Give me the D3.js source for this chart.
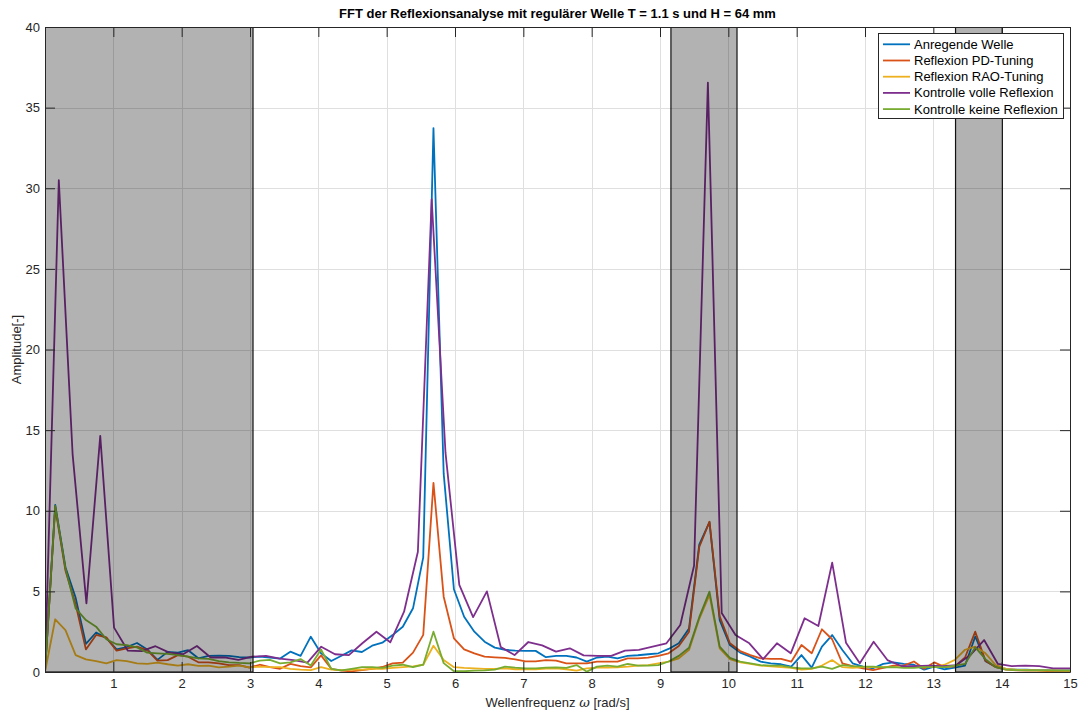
<!DOCTYPE html>
<html>
<head>
<meta charset="utf-8">
<script src="https://cdn.jsdelivr.net/npm/d3@7"></script>
<style>
  html, body { margin: 0; padding: 0; background: #fff; }
  svg { display: block; font-family: "Liberation Sans", Arial, Helvetica, sans-serif; }
</style>
</head>
<body>
<svg id="chart" width="1080" height="713"></svg>
<script>
// Frequency resolution of the two measurement records (rad/s per FFT bin)
const dOmegaRun = 0.1496;      // main runs (42 s record)
const dOmegaControl = 0.2021;  // full-reflection control run

// FFT amplitudes per bin, main runs
const anregendeWelle = [
  0, 10.36, 6.5, 4.6, 1.75, 2.45, 2.1, 1.4, 1.55, 1.8,
  1.4, 0.75, 1.25, 1.2, 1.35, 0.85, 1.0, 1.02, 1.0, 0.92,
  0.9, 0.95, 0.9, 0.83, 1.26, 1.0, 2.19, 1.16, 0.68, 1.01,
  1.34, 1.24, 1.63, 1.82, 2.29, 2.81, 3.95, 7.11, 33.73, 12.3,
  5.13, 3.43, 2.5, 1.88, 1.51, 1.38, 1.32, 1.31, 1.31, 0.92,
  1.0, 1.0, 0.9, 0.64, 0.9, 0.95, 0.85, 1.0, 1.04, 1.1,
  1.16, 1.43, 1.78, 2.7, 7.9, 9.3, 3.22, 1.67, 1.2, 0.95,
  0.64, 0.54, 0.48, 0.33, 1.05, 0.27, 1.57, 2.29, 1.36, 0.54,
  0.33, 0.23, 0.5, 0.6, 0.5, 0.45, 0.15, 0.33, 0.17, 0.27,
  0.4, 2.2, 0.67, 0.33, 0.2, 0.15, 0.15, 0.12, 0.12, 0.1,
  0.1, 0.1
];
const reflexionPD = [
  0, 10.2, 6.3, 4.2, 1.4, 2.3, 2.15, 1.32, 1.47, 1.57,
  1.36, 0.7, 0.74, 1.05, 0.95, 0.6, 0.6, 0.54, 0.43, 0.43,
  0.27, 0.45, 0.3, 0.2, 0.5, 0.37, 0.29, 1.03, 0.2, 0.08,
  0.04, 0.12, 0.2, 0.31, 0.54, 0.58, 1.2, 2.3, 11.73, 4.67,
  2.09, 1.4, 1.16, 0.95, 0.91, 0.87, 0.78, 0.66, 0.66, 0.74,
  0.7, 0.54, 0.54, 0.54, 0.64, 0.64, 0.64, 0.85, 0.85, 0.89,
  1.0, 1.16, 1.61, 2.5, 7.75, 9.32, 3.45, 1.78, 1.3, 1.05,
  0.85, 0.81, 0.81, 0.64, 1.67, 1.16, 2.65, 2.03, 0.54, 0.37,
  0.23, 0.12, 0.25, 0.4, 0.4, 0.65, 0.2, 0.6, 0.3, 0.35,
  0.9, 2.5, 0.7, 0.3, 0.15, 0.1, 0.08, 0.08, 0.06, 0.06,
  0.05, 0.05
];
const reflexionRAO = [
  0, 3.27, 2.6, 1.05, 0.78, 0.68, 0.54, 0.74, 0.68, 0.54,
  0.5, 0.58, 0.48, 0.4, 0.48, 0.38, 0.4, 0.29, 0.33, 0.4,
  0.29, 0.33, 0.3, 0.3, 0.2, 0.15, 0.12, 0.3, 0.15, 0.12,
  0.15, 0.15, 0.2, 0.2, 0.25, 0.3, 0.35, 0.45, 1.63, 0.74,
  0.3, 0.25, 0.22, 0.2, 0.2, 0.23, 0.17, 0.17, 0.17, 0.21,
  0.23, 0.17, 0.08, 0.23, 0.27, 0.27, 0.29, 0.33, 0.4, 0.43,
  0.54, 0.64, 0.85, 1.37, 3.3, 4.78, 1.47, 0.8, 0.6, 0.5,
  0.4, 0.35, 0.3, 0.25, 0.15, 0.2, 0.4, 0.74, 0.3, 0.25,
  0.3, 0.3, 0.3, 0.3, 0.3, 0.3, 0.35, 0.3, 0.45, 0.75,
  1.38, 1.57, 1.16, 0.43, 0.2, 0.15, 0.12, 0.1, 0.1, 0.1,
  0.08, 0.08
];
const keineReflexion = [
  0, 10.3, 6.43, 3.94, 3.22, 2.81, 2.03, 1.72, 1.67, 1.53,
  1.2, 1.16, 1.12, 1.05, 0.95, 0.85, 0.81, 0.68, 0.6, 0.56,
  0.54, 0.7, 0.75, 0.54, 0.6, 0.8, 0.4, 1.4, 0.2, 0.1,
  0.2, 0.3, 0.3, 0.25, 0.4, 0.45, 0.3, 0.45, 2.5, 0.55,
  0.05, 0.05, 0.08, 0.1, 0.15, 0.33, 0.27, 0.23, 0.23, 0.27,
  0.29, 0.25, 0.43, 0.02, 0.33, 0.4, 0.33, 0.5, 0.4, 0.4,
  0.43, 0.65, 1.0, 1.5, 3.4, 4.98, 1.57, 0.88, 0.64, 0.54,
  0.43, 0.39, 0.39, 0.29, 0.23, 0.23, 0.33, 0.19, 0.43, 0.37,
  0.33, 0.33, 0.29, 0.3, 0.25, 0.25, 0.3, 0.3, 0.3, 0.4,
  0.5, 1.53, 0.8, 0.3, 0.15, 0.12, 0.1, 0.1, 0.1, 0.08,
  0.08, 0.08
];
// FFT amplitudes per bin, full-reflection control run
const volleReflexion = [
  0, 30.5, 13.5, 4.26, 14.64, 2.75, 1.32, 1.3, 1.6, 1.2,
  1.1, 1.61, 0.9, 0.9, 0.75, 0.95, 1.0, 0.83, 0.74, 0.58,
  1.57, 1.1, 1.05, 1.8, 2.5, 1.84, 3.74, 7.46, 29.32, 13.6,
  5.4, 3.4, 5.0, 1.55, 1.05, 1.86, 1.65, 1.26, 1.47, 1.03,
  1.0, 1.0, 1.32, 1.37, 1.57, 1.78, 2.91, 6.6, 36.55, 3.66,
  2.3, 1.78, 0.8, 1.78, 1.16, 3.33, 2.85, 6.78, 1.82, 0.54,
  1.88, 0.74, 0.37, 0.37, 0.39, 0.37, 0.43, 1.05, 1.98, 0.5,
  0.37, 0.39, 0.37, 0.23, 0.23, 0.2
];

// Excluded frequency bands (shaded)
const bandStart = [0, 9.16, 13.325];
const bandEnd = [3.044, 10.127, 14.01];

const seriesNames = ["Anregende Welle", "Reflexion PD-Tuning", "Reflexion RAO-Tuning",
                     "Kontrolle volle Reflexion", "Kontrolle keine Reflexion"];
const seriesColors = ["#0072BD", "#D95319", "#EDB120", "#7E2F8E", "#77AC30"];
const seriesValues = [anregendeWelle, reflexionPD, reflexionRAO, volleReflexion, keineReflexion];
const seriesStep = [dOmegaRun, dOmegaRun, dOmegaRun, dOmegaControl, dOmegaRun];

const xTicks = d3.range(1, 16);
const yTicks = d3.range(0, 41, 5);

const titleText = "FFT der Reflexionsanalyse mit regulärer Welle T = 1.1 s und H = 64 mm";

// ---- layout ----
const svg = d3.select("#chart");
const plot = { left: 45, right: 1070, top: 27, bottom: 672 };
const axisColor = "#262626";

const x = d3.scaleLinear().domain([0, 15]).range([plot.left, plot.right]);
const y = d3.scaleLinear().domain([0, 40]).range([plot.bottom, plot.top]);

svg.append("defs").append("clipPath").attr("id", "plotClip")
  .append("rect")
  .attr("x", plot.left).attr("y", plot.top)
  .attr("width", plot.right - plot.left).attr("height", plot.bottom - plot.top);

// grid
const grid = svg.append("g").attr("stroke", "#dfdfdf").attr("stroke-width", 1);
grid.selectAll("line.gx").data(xTicks).join("line")
  .attr("x1", d => Math.round(x(d)) + 0.5).attr("x2", d => Math.round(x(d)) + 0.5)
  .attr("y1", plot.top).attr("y2", plot.bottom);
grid.selectAll("line.gy").data(yTicks).join("line")
  .attr("y1", d => Math.round(y(d)) + 0.5).attr("y2", d => Math.round(y(d)) + 0.5)
  .attr("x1", plot.left).attr("x2", plot.right);

// spectra
const lines = svg.append("g").attr("clip-path", "url(#plotClip)");
seriesValues.forEach((vals, i) => {
  const pts = vals.map((v, k) => [k * seriesStep[i], v]);
  lines.append("path")
    .datum(pts)
    .attr("fill", "none")
    .attr("stroke", seriesColors[i])
    .attr("stroke-width", 1.8)
    .attr("stroke-linejoin", "round")
    .attr("d", d3.line().x(d => x(d[0])).y(d => y(d[1])));
});

// shaded bands on top of the spectra
const bands = svg.append("g").attr("clip-path", "url(#plotClip)");
bandStart.forEach((s, i) => {
  bands.append("rect")
    .attr("x", x(s)).attr("y", plot.top)
    .attr("width", x(bandEnd[i]) - x(s)).attr("height", plot.bottom - plot.top)
    .attr("fill", "#000").attr("fill-opacity", 0.3)
    .attr("stroke", "#111").attr("stroke-width", 1.2);
});

// axes with inward ticks on all four sides
const tickLen = 10;
const axB = svg.append("g").attr("transform", `translate(0,${plot.bottom})`)
  .call(d3.axisBottom(x).tickValues(xTicks).tickSizeInner(-tickLen).tickSizeOuter(0).tickPadding(7).tickFormat(d3.format("d")));
const axT = svg.append("g").attr("transform", `translate(0,${plot.top})`)
  .call(d3.axisTop(x).tickValues(xTicks).tickSizeInner(-tickLen).tickSizeOuter(0).tickFormat(""));
const axL = svg.append("g").attr("transform", `translate(${plot.left},0)`)
  .call(d3.axisLeft(y).tickValues(yTicks).tickSizeInner(-tickLen).tickSizeOuter(0).tickPadding(5).tickFormat(d3.format("d")));
const axR = svg.append("g").attr("transform", `translate(${plot.right},0)`)
  .call(d3.axisRight(y).tickValues(yTicks).tickSizeInner(-tickLen).tickSizeOuter(0).tickFormat(""));
[axB, axT, axL, axR].forEach(a => {
  a.selectAll(".domain").attr("stroke", axisColor).attr("stroke-width", 1);
  a.selectAll(".tick line").attr("stroke", axisColor).attr("stroke-width", 1);
  a.selectAll(".tick text").attr("fill", axisColor).attr("font-size", 13)
    .attr("font-family", "Liberation Sans, Arial, sans-serif");
});

// title and axis labels
svg.append("text")
  .attr("x", (plot.left + plot.right) / 2).attr("y", 18)
  .attr("text-anchor", "middle").attr("font-size", 13).attr("font-weight", "bold")
  .attr("fill", "#000").text(titleText);

const xl = svg.append("text")
  .attr("x", (plot.left + plot.right) / 2).attr("y", 707)
  .attr("text-anchor", "middle").attr("font-size", 13).attr("fill", axisColor);
xl.append("tspan").text("Wellenfrequenz ");
xl.append("tspan").attr("font-style", "italic").attr("font-family", "DejaVu Serif, serif").text("ω");
xl.append("tspan").text(" [rad/s]");

svg.append("text")
  .attr("transform", `translate(21,${(plot.top + plot.bottom) / 2}) rotate(-90)`)
  .attr("text-anchor", "middle").attr("font-size", 13).attr("fill", axisColor)
  .text("Amplitude[-]");

// legend
const lg = { x: 878, y: 33, w: 185, h: 85, row: 16.2 };
const legend = svg.append("g");
legend.append("rect")
  .attr("x", lg.x + 0.5).attr("y", lg.y + 0.5).attr("width", lg.w).attr("height", lg.h)
  .attr("fill", "#fff").attr("stroke", axisColor).attr("stroke-width", 1);
seriesNames.forEach((name, i) => {
  const cy = lg.y + 11.3 + i * lg.row;
  legend.append("line")
    .attr("x1", lg.x + 5).attr("x2", lg.x + 32).attr("y1", cy).attr("y2", cy)
    .attr("stroke", seriesColors[i]).attr("stroke-width", 1.8);
  legend.append("text")
    .attr("x", lg.x + 36).attr("y", cy + 4.5)
    .attr("font-size", 13).attr("fill", "#000").text(name);
});
</script>
</body>
</html>
